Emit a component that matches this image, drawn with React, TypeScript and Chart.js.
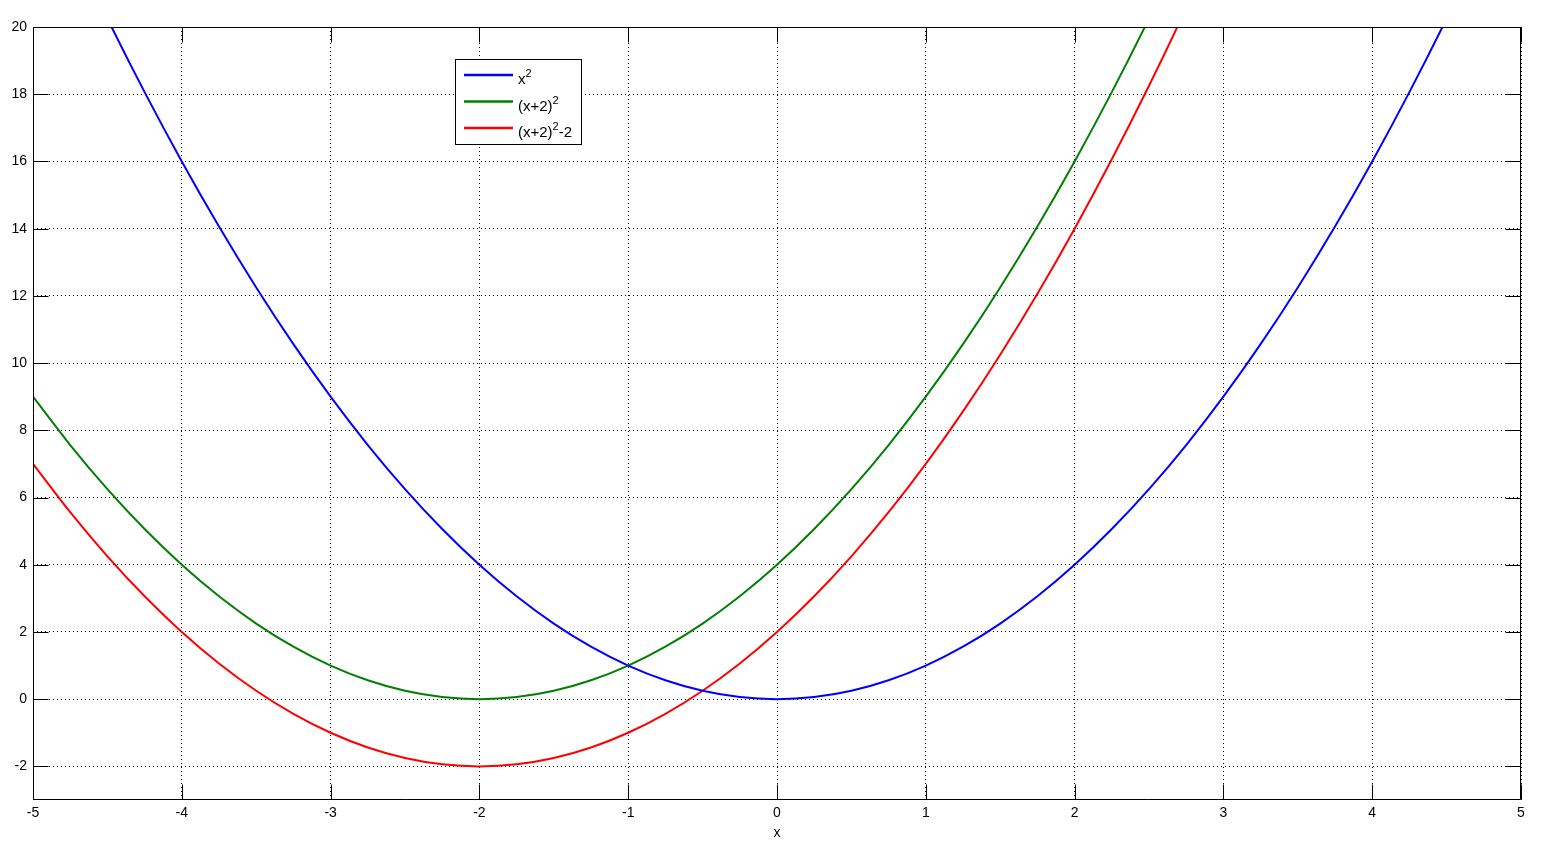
import React, { useEffect, useRef } from "react";
import { Chart, registerables } from "chart.js";

Chart.register(...registerables);

const xValues = [
  -5, -4.75, -4.5, -4.25, -4, -3.75, -3.5, -3.25, -3, -2.75, -2.5, -2.25, -2, -1.75, -1.5, -1.25, -1, -0.75, -0.5, -0.25,
  0, 0.25, 0.5, 0.75, 1, 1.25, 1.5, 1.75, 2, 2.25, 2.5, 2.75, 3, 3.25, 3.5, 3.75, 4, 4.25, 4.5, 4.75, 5,
];
const seriesX2 = [
  25, 22.5625, 20.25, 18.0625, 16, 14.0625, 12.25, 10.5625, 9, 7.5625, 6.25, 5.0625, 4, 3.0625, 2.25, 1.5625, 1, 0.5625, 0.25, 0.0625,
  0, 0.0625, 0.25, 0.5625, 1, 1.5625, 2.25, 3.0625, 4, 5.0625, 6.25, 7.5625, 9, 10.5625, 12.25, 14.0625, 16, 18.0625, 20.25, 22.5625, 25,
];
const seriesXp2 = [
  9, 7.5625, 6.25, 5.0625, 4, 3.0625, 2.25, 1.5625, 1, 0.5625, 0.25, 0.0625, 0, 0.0625, 0.25, 0.5625, 1, 1.5625, 2.25, 3.0625,
  4, 5.0625, 6.25, 7.5625, 9, 10.5625, 12.25, 14.0625, 16, 18.0625, 20.25, 22.5625, 25, 27.5625, 30.25, 33.0625, 36, 39.0625, 42.25, 45.5625, 49,
];
const seriesXp2m2 = [
  7, 5.5625, 4.25, 3.0625, 2, 1.0625, 0.25, -0.4375, -1, -1.4375, -1.75, -1.9375, -2, -1.9375, -1.75, -1.4375, -1, -0.4375, 0.25, 1.0625,
  2, 3.0625, 4.25, 5.5625, 7, 8.5625, 10.25, 12.0625, 14, 16.0625, 18.25, 20.5625, 23, 25.5625, 28.25, 31.0625, 34, 37.0625, 40.25, 43.5625, 47,
];
const seriesLabels = ["x^2", "(x+2)^2", "(x+2)^2-2"];
const seriesColors = ["#0000FF", "#007F00", "#FF0000"];
const xTicks = [-5, -4, -3, -2, -1, 0, 1, 2, 3, 4, 5];
const yTicks = [-2, 0, 2, 4, 6, 8, 10, 12, 14, 16, 18, 20];

const FONT = "'Liberation Sans', Arial, sans-serif";

const framePlugin = {
  id: "matlabFrame",
  afterDatasetsDraw(chart: any) {
    const { ctx, chartArea } = chart;
    const { left, right, top, bottom } = chartArea;
    const xs = chart.scales.x;
    const ys = chart.scales.y;
    ctx.save();
    ctx.strokeStyle = "#000";
    ctx.lineWidth = 1;
    const L = Math.round(left) + 0.5;
    const R = Math.round(right) - 0.5;
    const T = Math.round(top) + 0.5;
    const B = Math.round(bottom) - 0.5;
    ctx.beginPath();
    ctx.rect(L, T, R - L, B - T);
    const tl = 15;
    xTicks.forEach((v) => {
      const px = Math.round(xs.getPixelForValue(v)) + 0.5;
      ctx.moveTo(px, B);
      ctx.lineTo(px, B - tl);
      ctx.moveTo(px, T);
      ctx.lineTo(px, T + tl);
    });
    yTicks.forEach((v) => {
      const py = Math.round(ys.getPixelForValue(v)) + 0.5;
      ctx.moveTo(L, py);
      ctx.lineTo(L + tl, py);
      ctx.moveTo(R, py);
      ctx.lineTo(R - tl, py);
    });
    ctx.stroke();

    // legend
    const bx = 455.5, by = 59.5, bw = 126, bh = 85;
    ctx.fillStyle = "#fff";
    ctx.fillRect(bx, by, bw, bh);
    ctx.lineWidth = 1;
    ctx.strokeStyle = "#000";
    ctx.strokeRect(bx, by, bw, bh);
    const rowsY = [75, 101.5, 128];
    chart.data.datasets.forEach((ds: any, i: number) => {
      const y = rowsY[i];
      ctx.strokeStyle = ds.borderColor;
      ctx.lineWidth = 2.5;
      ctx.beginPath();
      ctx.moveTo(464, y);
      ctx.lineTo(513, y);
      ctx.stroke();
      ctx.fillStyle = "#000";
      ctx.textBaseline = "alphabetic";
      ctx.textAlign = "left";
      let tx = 518;
      const label: string = ds.label;
      let k = 0;
      while (k < label.length) {
        if (label[k] === "^" && k + 1 < label.length) {
          ctx.font = `11px ${FONT}`;
          ctx.fillText(label[k + 1], tx, y + 2);
          tx += ctx.measureText(label[k + 1]).width;
          k += 2;
        } else {
          let j = k;
          while (j < label.length && label[j] !== "^") j++;
          const s = label.slice(k, j);
          ctx.font = `15px ${FONT}`;
          ctx.fillText(s, tx, y + 9);
          tx += ctx.measureText(s).width;
          k = j;
        }
      }
    });
    ctx.restore();
  },
};

export default function App() {
  const ref = useRef<HTMLCanvasElement | null>(null);
  useEffect(() => {
    if (!ref.current) return;
    const all = [seriesX2, seriesXp2, seriesXp2m2];
    const chart = new Chart(ref.current, {
      type: "line",
      data: {
        datasets: all.map((ys, i) => ({
          label: seriesLabels[i],
          data: xValues.map((x, j) => ({ x, y: ys[j] })),
          borderColor: seriesColors[i],
          backgroundColor: seriesColors[i],
          borderWidth: 2,
          pointRadius: 0,
          fill: false,
          cubicInterpolationMode: "monotone" as const,
        })),
      },
      options: {
        animation: false,
        responsive: true,
        maintainAspectRatio: false,
        events: [],
        layout: { padding: { left: 0, right: 34, top: 27, bottom: 0 } },
        plugins: { legend: { display: false }, tooltip: { enabled: false } },
        scales: {
          x: {
            type: "linear",
            min: -5,
            max: 5,
            afterBuildTicks: (axis: any) => {
              axis.ticks = xTicks.map((v) => ({ value: v }));
            },
            afterFit: (axis: any) => {
              axis.height = 57;
            },
            grid: { color: "#000", lineWidth: 1, drawTicks: false },
            border: { display: false, dash: [1, 3] },
            ticks: { color: "#000", padding: 5, font: { family: FONT, size: 14 }, maxRotation: 0, autoSkip: false },
            title: { display: true, text: "x", color: "#000", font: { family: FONT, size: 14 }, padding: { top: 0, bottom: 15 } },
          },
          y: {
            type: "linear",
            min: -3,
            max: 20,
            afterBuildTicks: (axis: any) => {
              axis.ticks = yTicks.map((v) => ({ value: v }));
            },
            afterFit: (axis: any) => {
              axis.width = 33;
            },
            grid: { color: "#000", lineWidth: 1, drawTicks: false },
            border: { display: false, dash: [1, 3] },
            ticks: { color: "#000", padding: 6, font: { family: FONT, size: 14 }, autoSkip: false },
          },
        },
      },
      plugins: [framePlugin],
    });
    return () => chart.destroy();
  }, []);
  return (
    <div style={{ position: "fixed", left: 0, top: 0, width: 1555, height: 857, background: "#fff" }}>
      <canvas ref={ref} />
    </div>
  );
}
